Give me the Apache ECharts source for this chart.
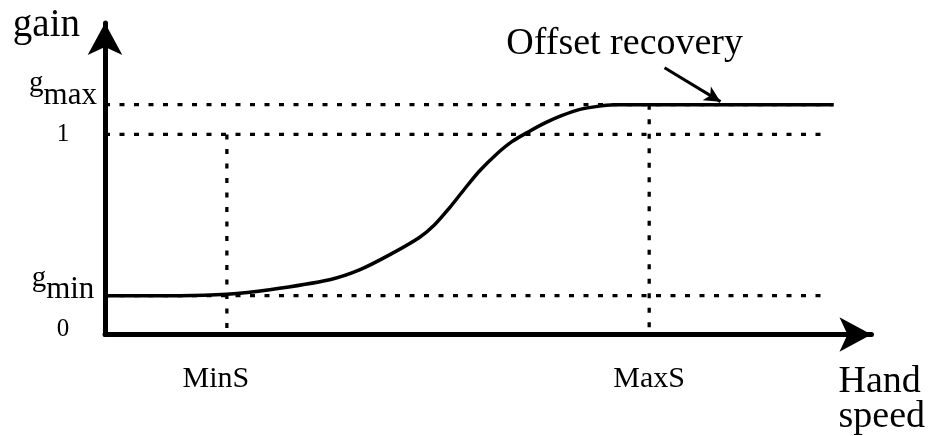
<!DOCTYPE html>
<html>
<head>
<meta charset="utf-8">
<script src="https://cdn.jsdelivr.net/npm/echarts@6/dist/echarts.min.js"></script>
<style>
html,body{margin:0;padding:0;background:#fff;}
#chart{width:928px;height:436px;}
</style>
</head>
<body>
<div id="chart"></div>
<script>
// ---- data ----
const curveX = [0, 9.77, 15.89, 21.48, 29.30, 33.20, 37.11, 41.02, 42.97, 44.92, 46.88, 48.83, 51.04, 53.13, 55.34, 57.55, 59.64, 61.85, 64.06, 66.41, 69.66, 95.05];
const curveY = [0.194, 0.194, 0.201, 0.224, 0.274, 0.323, 0.398, 0.485, 0.547, 0.632, 0.726, 0.816, 0.900, 0.965, 1.015, 1.060, 1.095, 1.124, 1.139, 1.148, 1.149, 1.149];
const gMax = 1.149;
const gOne = 1;
const gMin = 0.194;
const gZero = 0;
const minS = 15.9;
const maxS = 71.0;
const dottedEnd = 93.5;
const annotFrom = [73.0, 1.333];
const annotTo = [80.3, 1.164];
const annotText = 'Offset recovery';
const annotTextAt = [67.8, 1.453];
const xTickLabels = ['MinS', 'MaxS'];
const yAxisName = 'gain';
const xAxisName = 'Hand\nspeed';

const FONT = 'Liberation Serif';
const dotted = {color: '#000', width: 3.3, type: [5, 9.5]};

const option = {
  animation: false,
  grid: {left: 105, right: 55, top: 23, bottom: 100},
  xAxis: {
    type: 'value', min: 0, max: 100,
    name: xAxisName, nameLocation: 'end', nameGap: -33,
    nameTextStyle: {fontFamily: FONT, fontSize: 38, color: '#000', align: 'left', verticalAlign: 'top', lineHeight: 35, padding: [30, 0, 0, 0]},
    axisLine: {show: true, lineStyle: {color: '#000', width: 5}, symbol: ['none', 'arrow'], symbolSize: [26, 32]},
    axisTick: {show: false},
    splitLine: {show: false},
    axisLabel: {
      show: true, customValues: [minS, maxS], margin: 30, verticalAlign: 'top',
      showMinLabel: true, showMaxLabel: true,
      fontFamily: FONT, fontSize: 30, color: '#000',
      formatter: v => (Math.abs(v - minS) < 1e-6 ? '{a|' + xTickLabels[0] + '}' : '{b|' + xTickLabels[1] + '}'),
      rich: {
        a: {fontFamily: FONT, fontSize: 30, color: '#000', padding: [0, 22, 0, 0]},
        b: {fontFamily: FONT, fontSize: 30, color: '#000'}
      }
    }
  },
  yAxis: {
    type: 'value', min: 0, max: 1.557,
    name: yAxisName, nameLocation: 'end', nameGap: -3,
    nameTextStyle: {fontFamily: FONT, fontSize: 39, color: '#000', align: 'right', verticalAlign: 'middle', padding: [0, 25, 0, 0]},
    axisLine: {show: true, lineStyle: {color: '#000', width: 5}, symbol: ['none', 'arrow'], symbolSize: [26, 32]},
    axisTick: {show: false},
    splitLine: {show: false},
    axisLabel: {
      show: true, customValues: [gZero, gMin, gOne, gMax], margin: 42, align: 'center', verticalAlign: 'middle',
      showMinLabel: true, showMaxLabel: true, hideOverlap: false,
      fontFamily: FONT, color: '#000',
      formatter: v => {
        if (Math.abs(v - gMax) < 1e-6) return '{gx|g}{sx|max}';
        if (Math.abs(v - gMin) < 1e-6) return '{gn|g}{sn|min}';
        if (Math.abs(v - gOne) < 1e-6) return '{one|1}';
        return '{zero|0}';
      },
      rich: {
        gx: {fontFamily: FONT, fontSize: 29, color: '#000', padding: [0, 0, 42, 0]},
        sx: {fontFamily: FONT, fontSize: 31, color: '#000', padding: [0, 0, 18, 0]},
        gn: {fontFamily: FONT, fontSize: 29, color: '#000', padding: [0, 0, 35, 0]},
        sn: {fontFamily: FONT, fontSize: 31, color: '#000', padding: [0, 0, 12, 0]},
        one: {fontFamily: FONT, fontSize: 25, color: '#000', padding: [0, 0, 0, 0]},
        zero: {fontFamily: FONT, fontSize: 25, color: '#000', padding: [0, 0, 10, 0]}
      }
    }
  },
  series: [
    {type: 'line', symbol: 'none', silent: true, z: 1, lineStyle: dotted, data: [[0, gMax], [curveX[curveX.length - 1], gMax]]},
    {type: 'line', symbol: 'none', silent: true, z: 1, lineStyle: dotted, data: [[0, gOne], [dottedEnd, gOne]]},
    {type: 'line', symbol: 'none', silent: true, z: 1, lineStyle: dotted, data: [[0, gMin], [dottedEnd, gMin]]},
    {type: 'line', symbol: 'none', silent: true, z: 1, lineStyle: dotted, data: [[minS, gOne], [minS, gZero]]},
    {type: 'line', symbol: 'none', silent: true, z: 1, lineStyle: dotted, data: [[maxS, gMax], [maxS, gZero]]},
    {
      type: 'line', symbol: 'none', silent: true, z: 5,
      smooth: 0.3,
      lineStyle: {color: '#000', width: 3.5},
      data: curveX.map((x, i) => [x, curveY[i]]),
      markLine: {
        silent: true, animation: false,
        symbol: ['none', 'arrow'], symbolSize: [12, 16],
        lineStyle: {color: '#000', width: 3, type: 'solid'},
        label: {show: false},
        data: [[{coord: annotFrom}, {coord: annotTo}]]
      },
      markPoint: {
        silent: true, animation: false,
        symbol: 'circle', symbolSize: 0,
        label: {show: true, position: 'inside', formatter: annotText, fontFamily: FONT, fontSize: 38, color: '#000'},
        data: [{coord: annotTextAt}]
      }
    }
  ]
};

const chart = echarts.init(document.getElementById('chart'), null, {renderer: 'canvas'});
chart.setOption(option);
</script>
</body>
</html>
